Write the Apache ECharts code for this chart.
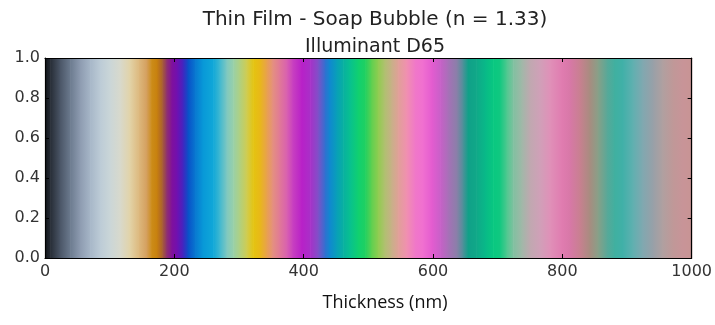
<!DOCTYPE html>
<html>
<head>
<meta charset="utf-8">
<script src="https://cdn.jsdelivr.net/npm/echarts@6/dist/echarts.min.js"></script>
<style>html,body{margin:0;padding:0;background:#fff;}#c{width:715px;height:325px;}</style>
</head>
<body>
<div id="c"></div>
<script>
// Film thickness (nm) sample positions and the colour read at each
const thickness = [0,8,23,39,54,70,85,100,116,131,144,157,165,173,181,188,196,204,213,221,232,244,260,270,281,291,301,312,322,332,343,352,363,374,383,397,410,422,433,440,451,461,471,484,495,505,515,525,536,546,559,572,584,598,611,623,637,646,654,667,680,693,703,714,724,737,750,765,781,799,811,827,842,855,869,881,893,909,924,940,955,971,986,1000];
const colors = ['#101318','#262c35','#4a5566','#6c7b8f','#8d9bb0','#a7b7c8','#bccbd6','#cad6d8','#d8d9cc','#e2d3a8','#ddba80','#d49f5e','#cc8c18','#c7800e','#a86030','#8e3070','#80109c','#7010b0','#4424c0','#0a50c8','#0878d0','#0898d8','#10a8d8','#40b8d0','#80c8c0','#98d0a8','#b0d080','#d0cc50','#e4c410','#e8b818','#e8a050','#e49080','#e07898','#d860b0','#c840c0','#b820c8','#a830c8','#8050c8','#3070d0','#1088d0','#08a0b8','#08b0a0','#08c090','#10d070','#20d060','#60d050','#90cc50','#b0c070','#c8b088','#e0a098','#f090b0','#f078c8','#f070d0','#e45cd0','#c860c8','#a870b8','#8880a8','#50909a','#10a088','#10a888','#08b888','#08c880','#10c880','#50c890','#80c0a0','#a0b8a8','#c0a8b0','#d0a0b8','#e090b8','#e07cb0','#d878a8','#c88090','#a88c80','#88a088','#58a898','#40b0a0','#40b0a8','#60b0b0','#80a8b0','#98a0a8','#b0a0a0','#c09898','#c89498','#c89494'];
const xTicks = [0,200,400,600,800,1000];
const yTicks = [0.0,0.2,0.4,0.6,0.8,1.0];
const titleText = 'Thin Film - Soap Bubble (n = 1.33)';
const subtitleText = 'Illuminant D65';
const xLabel = 'Thickness (nm)';

const segs = [];
for (let i = 0; i < thickness.length - 1; i++) segs.push([thickness[i], thickness[i+1], i]);

const chart = echarts.init(document.getElementById('c'));
const font = 'DejaVu Sans';
const axisCommon = {
  axisLine: {show: true, onZero: false, lineStyle: {color: '#000', width: 1.2}},
  axisTick: {show: true, inside: true, length: 4, lineStyle: {color: '#000'}},
  splitLine: {show: false},
  z: 10
};
chart.setOption({
  animation: false,
  title: [
    {text: titleText, left: 370, top: 5, textAlign: 'center', textStyle: {fontFamily: font, fontSize: 20, fontWeight: 'normal', color: '#222'}},
    {text: subtitleText, left: 370, top: 33, textAlign: 'center', textStyle: {fontFamily: font, fontSize: 19, fontWeight: 'normal', color: '#222'}},
    {text: xLabel, left: 380, top: 289, textAlign: 'center', textStyle: {fontFamily: 'Open Sans', fontSize: 18, fontWeight: 'normal', color: '#111'}}
  ],
  grid: {left: 45, right: 23, top: 58, bottom: 67},
  xAxis: [
    Object.assign({type: 'value', min: 0, max: 1000, interval: 200, position: 'bottom',
      axisLabel: {show: true, fontFamily: font, fontSize: 16, color: '#333', margin: 6,
        formatter: v => xTicks.includes(v) ? String(v) : ''}}, axisCommon),
    Object.assign({type: 'value', min: 0, max: 1000, interval: 200, position: 'top', axisLabel: {show: false}}, axisCommon)
  ],
  yAxis: [
    Object.assign({type: 'value', min: 0, max: 1, interval: 0.2, position: 'left',
      axisLabel: {show: true, fontFamily: font, fontSize: 16, color: '#333', margin: 5,
        formatter: v => yTicks.some(t => Math.abs(t - v) < 1e-9) ? v.toFixed(1) : ''}}, axisCommon),
    Object.assign({type: 'value', min: 0, max: 1, interval: 0.2, position: 'right', axisLabel: {show: false}}, axisCommon)
  ],
  series: [{
    type: 'custom',
    xAxisIndex: 0, yAxisIndex: 0,
    data: segs,
    renderItem: function (params, api) {
      const i = api.value(2);
      const p0 = api.coord([api.value(0), 1]);
      const p1 = api.coord([api.value(1), 0]);
      return {
        type: 'rect',
        shape: {x: p0[0], y: p0[1], width: p1[0] - p0[0] + 0.6, height: p1[1] - p0[1]},
        style: {fill: new echarts.graphic.LinearGradient(0, 0, 1, 0, [
          {offset: 0, color: colors[i]}, {offset: 1, color: colors[i + 1]}
        ])}
      };
    }
  }]
});
</script>
</body>
</html>
